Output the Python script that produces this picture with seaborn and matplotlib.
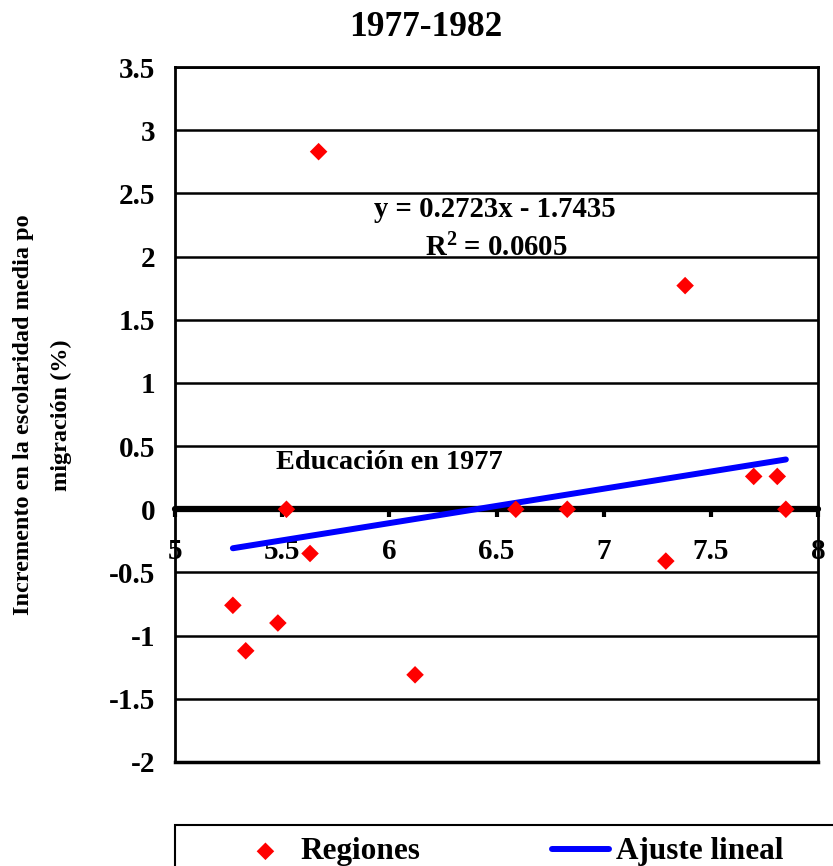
import numpy as np
import pandas as pd
import matplotlib
matplotlib.use("Agg")
import matplotlib.pyplot as plt
import seaborn as sns
from matplotlib.transforms import Bbox, TransformedBbox
from matplotlib.patches import Rectangle

# ---- data ----
educacion_1977 = [5.67, 7.38, 5.52, 5.63, 6.59, 6.83, 7.29, 7.70, 7.81, 7.85, 5.27, 5.33, 5.48, 6.12]
incremento = [2.83, 1.77, 0.00, -0.35, 0.00, 0.00, -0.41, 0.26, 0.26, 0.00, -0.76, -1.12, -0.90, -1.31]
slope = 0.2723
intercept = -1.7435
r2 = 0.0605
x_ticks = [5, 5.5, 6, 6.5, 7, 7.5, 8]
x_tick_labels = ["5", "5.5", "6", "6.5", "7", "7.5", "8"]
y_ticks = [-2, -1.5, -1, -0.5, 0, 0.5, 1, 1.5, 2, 2.5, 3, 3.5]
y_tick_labels = ["-2", "-1.5", "-1", "-0.5", "0", "0.5", "1", "1.5", "2", "2.5", "3", "3.5"]
title = "1977-1982"
x_title = "Educación en 1977"
y_title_1 = "Incremento en la escolaridad media por"
y_title_2 = "migración (%)"
series_names = ["Regiones", "Ajuste lineal"]

df = pd.DataFrame({"x": educacion_1977, "y": incremento})
xs = np.sort(np.array(educacion_1977))
fit = pd.DataFrame({"x": xs, "y": slope * xs + intercept})

FONT = "Liberation Serif"
plt.rcParams["font.family"] = [FONT, "DejaVu Serif"]
plt.rcParams["font.weight"] = "bold"
plt.rcParams["mathtext.fontset"] = "custom"
plt.rcParams["mathtext.rm"] = "Liberation Serif:bold"
plt.rcParams["mathtext.bf"] = "Liberation Serif:bold"
plt.rcParams["mathtext.default"] = "rm"

W, H = 833, 866
fig = plt.figure(figsize=(W / 100, H / 100), dpi=100)
L, R, T, B = 175, 818, 67, 762
ax = fig.add_axes([L / W, 1 - B / H, (R - L) / W, (B - T) / H])

# x axis crosses at y = 0
ax.spines["bottom"].set_position(("data", 0))

sns.scatterplot(data=df, x="x", y="y", ax=ax, marker="D", s=80, color="#FF0000",
                edgecolor="none", label=series_names[0], zorder=5, clip_on=False)
sns.lineplot(data=fit, x="x", y="y", ax=ax, color="#0000FF", linewidth=4.3,
             label=series_names[1], zorder=4, solid_capstyle="round")

ax.set_xlim(5, 8)
ax.set_ylim(-2, 3.5)
ax.set_xticks(x_ticks)
ax.set_xticklabels(x_tick_labels)
ax.set_yticks(y_ticks)
ax.set_yticklabels(y_tick_labels)
ax.set_xlabel("")
ax.set_ylabel("")

ax.grid(axis="y", color="black", linewidth=1.8)
ax.grid(axis="x", visible=False)
ax.set_axisbelow(True)

for s in ["left", "top", "right"]:
    ax.spines[s].set_linewidth(2)
    ax.spines[s].set_color("black")
ax.spines["bottom"].set_linewidth(4.5)
ax.spines["bottom"].set_capstyle("round")
ax.axhline(-2, color="black", linewidth=2.5, clip_on=False, zorder=3)

ax.tick_params(axis="x", direction="out", length=6, width=3, pad=14.5, colors="black",
               labelsize=21)
ax.tick_params(axis="y", length=0, pad=14, labelsize=21)
for lab in ax.get_xticklabels() + ax.get_yticklabels():
    lab.set_fontweight("bold")
    lab.set_family(FONT)

# annotations
ax.text(6.49, 2.37, f"y = {slope:.4f}x - {abs(intercept):.4f}", ha="center", va="center",
        fontsize=20.7, fontweight="bold", family=FONT)
ax.text(6.50, 2.07, "R$^{2}$" + f" = {r2:.4f}", ha="center", va="center",
        fontsize=20.7, fontweight="bold", family=FONT)
ax.text(6.0, 0.37, x_title, ha="center", va="center", fontsize=20.3, fontweight="bold", family=FONT)

# title
fig.text(426 / W, 1 - 27 / H, title, ha="center", va="center", fontsize=25.5,
         fontweight="bold", family=FONT)

# y title (first line clipped as in original)
t1 = fig.text(24 / W, 1 - 615 / H, y_title_1, rotation=90, ha="center", va="bottom",
              fontsize=17.5, fontweight="bold", family=FONT)
t1.set_clip_box(TransformedBbox(Bbox([[0, 0], [1, 1 - 215 / H]]), fig.transFigure))
t1.set_clip_on(True)
fig.text(61 / W, 1 - 415 / H, y_title_2, rotation=90, ha="center", va="center",
         fontsize=17.5, fontweight="bold", family=FONT)

# legend
handles, labels = ax.get_legend_handles_labels()
if ax.get_legend() is not None:
    ax.get_legend().remove()
leg = fig.legend(handles, labels, loc="center left", bbox_to_anchor=(237 / W, 1 - 852 / H),
                 frameon=False, ncol=2, borderpad=0, borderaxespad=0,
                 handlelength=1.82, handletextpad=0.22, columnspacing=4.2,
                 prop={"family": FONT, "weight": "bold", "size": 22.5})
fig.patches.append(Rectangle((175 / W, -0.05), (870 - 175) / W, 0.05 + 1 - 825 / H,
                             transform=fig.transFigure, fill=False, edgecolor="black",
                             linewidth=1.5))

fig.savefig("out.png", dpi=100)
